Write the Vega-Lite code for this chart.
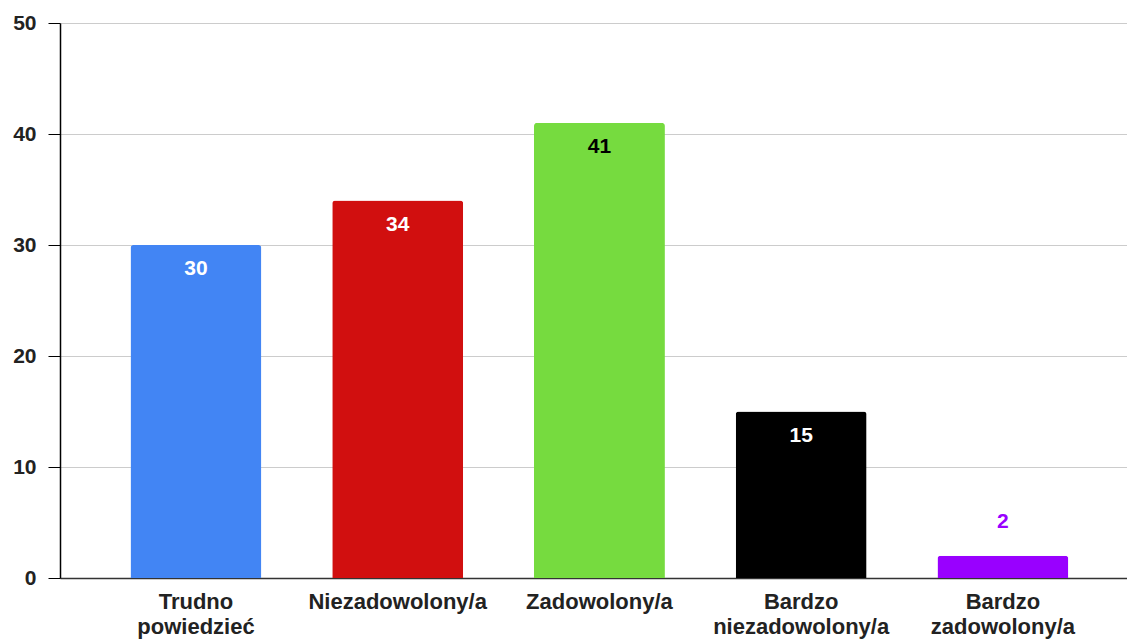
{
  "$schema": "https://vega.github.io/schema/vega-lite/v6.json",
  "width": 1067,
  "height": 555,
  "autosize": {"type": "none"},
  "padding": {"left": 60, "top": 23, "right": 0, "bottom": 61},
  "background": "#ffffff",
  "config": {"view": {"stroke": null}},
  "data": {
    "values": [
      {"category": "Trudno powiedzieć", "value": 30},
      {"category": "Niezadowolony/a", "value": 34},
      {"category": "Zadowolony/a", "value": 41},
      {"category": "Bardzo niezadowolony/a", "value": 15},
      {"category": "Bardzo zadowolony/a", "value": 2}
    ]
  },
  "encoding": {
    "x": {
      "field": "category",
      "type": "nominal",
      "sort": null,
      "scale": {"paddingInner": 0.351, "paddingOuter": 0.32, "align": 0.546},
      "axis": {
        "title": null,
        "labelAngle": 0,
        "labelExpr": "indexof(datum.label, 'Bardzo') == 0 || indexof(datum.label, 'Trudno') == 0 ? split(datum.label, ' ') : datum.label",
        "labelFont": "Liberation Sans",
        "labelFontSize": 22,
        "labelFontWeight": "bold",
        "labelColor": "#222222",
        "labelPadding": 13,
        "labelLineHeight": 25,
        "labelLimit": 250,
        "ticks": false,
        "domainColor": "#333333",
        "domainWidth": 1.5,
        "grid": false
      }
    },
    "y": {
      "field": "value",
      "type": "quantitative",
      "scale": {"domain": [0, 50]},
      "axis": {
        "title": null,
        "values": [0, 10, 20, 30, 40, 50],
        "labelFont": "Liberation Sans",
        "labelFontSize": 21,
        "labelFontWeight": "bold",
        "labelColor": "#222222",
        "labelPadding": 12,
        "tickSize": 12,
        "tickColor": "#000000",
        "domainColor": "#000000",
        "domainWidth": 1.5,
        "gridColor": "#cccccc",
        "gridWidth": 1
      }
    }
  },
  "layer": [
    {
      "mark": {"type": "bar", "cornerRadiusTopLeft": 3, "cornerRadiusTopRight": 3},
      "encoding": {
        "color": {
          "field": "category",
          "type": "nominal",
          "legend": null,
          "scale": {
            "domain": ["Trudno powiedzieć", "Niezadowolony/a", "Zadowolony/a", "Bardzo niezadowolony/a", "Bardzo zadowolony/a"],
            "range": ["#4285F4", "#D10F0F", "#76DB3F", "#000000", "#9900FF"]
          }
        }
      }
    },
    {
      "transform": [{"filter": "datum.value >= 5"}],
      "mark": {"type": "text", "baseline": "middle", "dy": 24, "font": "Liberation Sans", "fontSize": 21, "fontWeight": "bold"},
      "encoding": {
        "text": {"field": "value", "type": "quantitative"},
        "color": {
          "field": "category",
          "type": "nominal",
          "legend": null,
          "scale": {
            "domain": ["Trudno powiedzieć", "Niezadowolony/a", "Zadowolony/a", "Bardzo niezadowolony/a", "Bardzo zadowolony/a"],
            "range": ["#ffffff", "#ffffff", "#000000", "#ffffff", "#9900FF"]
          }
        }
      }
    },
    {
      "transform": [{"filter": "datum.value < 5"}],
      "mark": {"type": "text", "baseline": "middle", "dy": -34, "font": "Liberation Sans", "fontSize": 21, "fontWeight": "bold", "color": "#9900FF"},
      "encoding": {
        "text": {"field": "value", "type": "quantitative"}
      }
    }
  ],
  "resolve": {"scale": {"color": "independent"}}
}
